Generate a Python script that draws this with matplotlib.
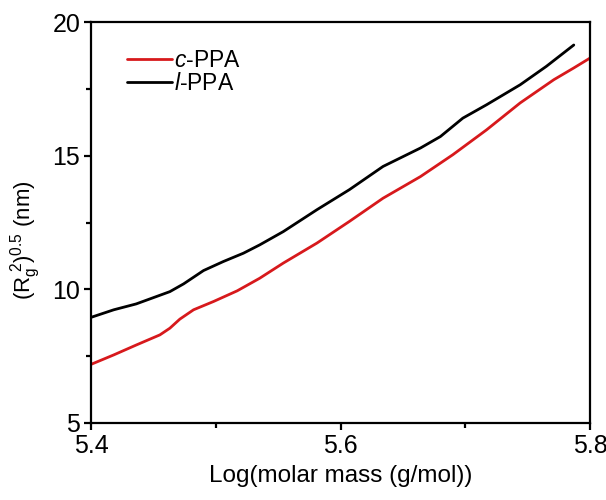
import matplotlib.pyplot as plt
import numpy as np

plt.rcParams['font.family'] = 'Liberation Sans'
plt.rcParams['mathtext.fontset'] = 'custom'
plt.rcParams['mathtext.rm'] = 'Liberation Sans'
plt.rcParams['mathtext.it'] = 'Liberation Sans:italic'

# c-PPA (red)
x_c = [5.400, 5.418, 5.436, 5.455, 5.463, 5.471, 5.482, 5.498, 5.517, 5.535,
       5.554, 5.581, 5.607, 5.634, 5.664, 5.690, 5.717, 5.744, 5.771, 5.787, 5.800]
y_c = [7.19, 7.54, 7.91, 8.29, 8.54, 8.88, 9.23, 9.54, 9.94, 10.41,
       10.98, 11.73, 12.54, 13.41, 14.22, 15.04, 15.97, 16.98, 17.85, 18.29, 18.66]

# l-PPA (black)
x_l = [5.400, 5.418, 5.436, 5.463, 5.474, 5.490, 5.506, 5.522, 5.535, 5.554,
       5.581, 5.607, 5.634, 5.664, 5.680, 5.698, 5.717, 5.744, 5.765, 5.787]
y_l = [8.95, 9.23, 9.45, 9.91, 10.20, 10.70, 11.04, 11.35, 11.66, 12.16,
       12.98, 13.73, 14.60, 15.29, 15.72, 16.41, 16.91, 17.66, 18.35, 19.15]

fig = plt.figure(figsize=(6.06, 5.00), dpi=100)
ax = fig.add_axes([0.1507, 0.1546, 0.8229, 0.8008])

ax.plot(x_c, y_c, color='#d7191c', lw=2.0, label=r'$\it{c}$-PPA',
        solid_joinstyle='round', solid_capstyle='round')
ax.plot(x_l, y_l, color='black', lw=2.0, label=r'$\it{l}$-PPA',
        solid_joinstyle='round', solid_capstyle='round')

ax.set_xlim(5.4, 5.8)
ax.set_ylim(5, 20)
ax.set_xticks([5.4, 5.6, 5.8])
ax.set_xticks([5.5, 5.7], minor=True)
ax.set_yticks([5, 10, 15, 20])
ax.set_yticks([7.5, 12.5, 17.5], minor=True)

for s in ax.spines.values():
    s.set_linewidth(1.6)
ax.tick_params(which='major', direction='out', length=5, width=1.6, labelsize=18, pad=3)
ax.tick_params(which='minor', direction='out', length=3.5, width=1.6)

ax.set_xlabel('Log(molar mass (g/mol))', fontsize=17.5, labelpad=5.5)
ax.set_ylabel(r'$(\mathrm{R}_\mathrm{g}^{\ 2})^{0.5}$ (nm)', fontsize=16)
ax.yaxis.set_label_coords(-0.097, 0.456)

ax.legend(loc='upper left', bbox_to_anchor=(0.071, 0.934), frameon=False,
          fontsize=16.5, handlelength=1.96, handletextpad=0.1, labelspacing=0.0,
          borderpad=0, borderaxespad=0)

fig.savefig('out.png', dpi=100)
